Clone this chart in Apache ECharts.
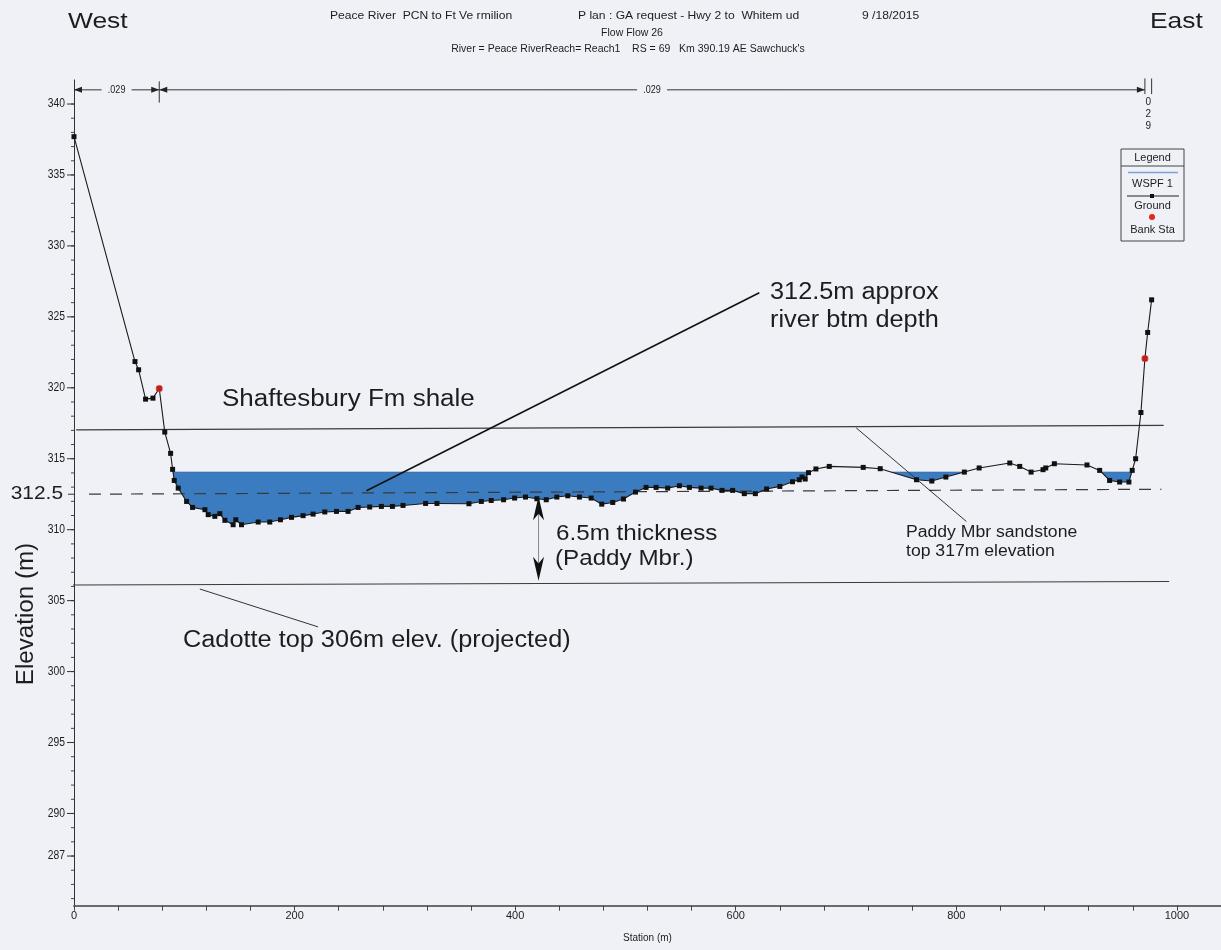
<!DOCTYPE html>
<html>
<head>
<meta charset="utf-8">
<title>Peace River cross section RS 69</title>
<script src="https://cdn.jsdelivr.net/npm/echarts@6/dist/echarts.min.js"></script>
<style>
  html, body { margin: 0; padding: 0; background: #eff1f6; }
  #chart { width: 1221px; height: 950px; }
</style>
</head>
<body>
<div id="chart"></div>
<script>
// Ground survey points: station (m) and elevation (m)
const stations = [0, 55.3, 58.6, 64.9, 71.6, 77.3, 82.3, 87.6, 89.4, 90.9, 94.5,
  102.1, 107.5, 118.7, 121.7, 127.7, 132.2, 136.8, 144.3, 146.7, 151.9,
  167.0, 177.5, 187.2, 197.2, 207.7, 216.8, 227.4, 238.0, 248.5, 257.6,
  268.1, 278.7, 288.7, 298.3, 318.8, 329.1, 358.1, 369.3, 378.3, 389.5,
  399.5, 409.4, 419.7, 428.2, 437.8, 447.7, 458.3, 468.9, 478.5, 488.5,
  498.2, 509.1, 518.7, 527.8, 538.3, 548.9, 558.0, 568.6, 577.6, 587.6,
  597.2, 607.8, 617.8, 628.0, 640.0, 651.5, 657.6, 660.1, 663.0, 666.0,
  672.7, 684.8, 715.6, 731.0, 763.9, 777.8, 790.5, 807.3, 820.7, 848.5,
  857.5, 867.8, 878.6, 881.1, 888.9, 918.5, 930.0, 939.0, 948.1, 956.5,
  959.5, 962.6, 967.4, 971.0, 973.5, 977.1];
const elevations = [337.7, 321.85, 321.27, 319.2, 319.27, 319.95, 316.88, 315.38, 314.25, 313.47, 312.93,
  311.99, 311.57, 311.41, 311.06, 310.94, 311.13, 310.66, 310.35, 310.7, 310.35,
  310.54, 310.54, 310.7, 310.87, 310.99, 311.1, 311.25, 311.29, 311.29, 311.57,
  311.6, 311.64, 311.64, 311.71, 311.85, 311.85, 311.83, 311.99, 312.06, 312.11,
  312.23, 312.3, 312.18, 312.11, 312.3, 312.39, 312.3, 312.23, 311.8, 311.92,
  312.16, 312.65, 312.98, 312.98, 312.93, 313.1, 312.98, 312.93, 312.93, 312.77,
  312.77, 312.54, 312.54, 312.87, 313.05, 313.38, 313.52, 313.71, 313.57, 314.02,
  314.28, 314.46, 314.39, 314.3, 313.52, 313.43, 313.71, 314.06, 314.35, 314.7,
  314.46, 314.06, 314.23, 314.35, 314.65, 314.56, 314.18, 313.47, 313.36, 313.36,
  314.18, 315.0, 318.26, 322.06, 323.9, 326.2];

// Bank stations
const bankStations = [77.3, 971.0];
const bankElevations = [319.95, 322.06];

// Water surface profile WSPF 1 (m)
const waterElevation = 314.05;

// Manning's n regions: break stations and values
const nBreaks = [0, 77.3, 971.0, 977.1];
const nValues = ['.029', '.029', '.029'];
const nBarElevation = 341.0;

// Vertical axis tick labels
const yMajorTicks = [340, 335, 330, 325, 320, 315, 310, 305, 300, 295, 290, 287];
const yMarkTicks = [312.5];

// Interpreted geology and callouts, [station, elevation] end points
const shaleBaseLine = [[2, 317.04], [988, 317.35]];
const riverBottomLine = [[13.6, 312.5], [986, 312.85]];
const cadotteTopLine = [[-6, 306.1], [993, 306.35]];
const bottomCallout = [[265.2, 312.75], [621.4, 326.7]];
const paddyCallout = [[709.2, 317.18], [809.1, 310.58]];
const cadotteCallout = [[114.1, 305.82], [221.3, 303.15]];
const thicknessArrow = [[421.2, 312.35], [421.2, 306.4]];

const BG = '#eff1f6';
const INK = '#1d1d1f';
const SANS = '"Liberation Sans", Arial, sans-serif';
const SX = 1.1;

const yMinorTicks = [];
for (let v = 284; v <= 340; v++) yMinorTicks.push(v);

function pairs(xs, ys) { return xs.map((x, i) => [x, ys[i]]); }

// Wetted areas between the ground line and the water surface
function wetRuns() {
  const ws = waterElevation;
  const runs = [];
  let cur = null;
  for (let i = 0; i < stations.length; i++) {
    const s = stations[i], g = elevations[i];
    if (i > 0) {
      const s0 = stations[i - 1], g0 = elevations[i - 1];
      if ((g0 < ws) !== (g < ws)) {
        const t = (ws - g0) / (g - g0);
        const sc = s0 + t * (s - s0);
        if (cur) { cur.push([sc, ws]); runs.push(cur); cur = null; }
        else { cur = [[sc, ws]]; }
      }
    }
    if (g < ws) { if (!cur) cur = []; cur.push([s, g]); }
  }
  if (cur) runs.push(cur);
  return runs;
}

function txt(text, x, y, size, opts) {
  opts = opts || {};
  return {
    type: 'text', x: x, y: y, scaleX: opts.scaleX || SX, rotation: opts.rotation || 0,
    z: 100, silent: true,
    style: {
      text: text, fill: opts.color || INK,
      font: (opts.weight || 'normal') + ' ' + size + 'px ' + (opts.family || SANS),
      textAlign: opts.align || 'left', textVerticalAlign: 'middle'
    }
  };
}

// filled arrowhead with a notched back, tip at (x, y), pointing along (dx, dy)
function arrowHead(x, y, dx, dy, len, half) {
  const n = Math.hypot(dx, dy); const ux = dx / n, uy = dy / n;
  const px = -uy, py = ux;
  const bx = x - ux * len, by = y - uy * len;
  const nx = x - ux * len * 0.72, ny = y - uy * len * 0.72;
  return { type: 'polygon', shape: { points: [[x, y], [bx + px * half, by + py * half], [nx, ny], [bx - px * half, by - py * half]] }, style: { fill: '#111' } };
}

const chart = echarts.init(document.getElementById('chart'), null, { renderer: 'canvas' });

const option = {
  backgroundColor: BG,
  animation: false,
  grid: { left: 74, right: 0, top: 79.9, bottom: 44.3, containLabel: false },
  xAxis: {
    type: 'value', min: 0, max: 1040, interval: 200,
    name: 'Station (m)', nameLocation: 'middle', nameGap: 28,
    nameTextStyle: { fontFamily: SANS, fontSize: 10, color: INK },
    axisLine: { show: true, onZero: false, lineStyle: { color: '#6a6a6a', width: 2 } },
    axisTick: { show: true, length: 5, lineStyle: { color: '#444', width: 1 } },
    minorTick: { show: true, splitNumber: 5, length: 5, lineStyle: { color: '#444', width: 1 } },
    splitLine: { show: false },
    minorSplitLine: { show: false },
    axisLabel: { showMaxLabel: false, fontFamily: SANS, fontSize: 11, color: INK, margin: 5,
      formatter: function (v) { return String(v); } }
  },
  yAxis: {
    type: 'value', min: 283.5, max: 341.7,
    axisLine: { show: true, onZero: false, lineStyle: { color: '#333', width: 1 } },
    axisTick: { show: false }, axisLabel: { show: false }, splitLine: { show: false }
  },
  series: [
    {
      // water surface fill
      name: 'WSPF 1', type: 'custom', coordinateSystem: 'cartesian2d', data: [0], z: 2, silent: true,
      renderItem: function (params, api) {
        const children = [];
        wetRuns().forEach(function (run) {
          const first = run[0], last = run[run.length - 1];
          const bottom = run.map(p => api.coord(p));
          const pts = bottom.concat([api.coord([last[0], waterElevation]), api.coord([first[0], waterElevation])]);
          children.push({ type: 'polygon', shape: { points: pts }, style: { fill: '#3a7cbf', stroke: null } });
          children.push({ type: 'line', shape: { x1: pts[pts.length - 1][0], y1: pts[pts.length - 1][1], x2: pts[pts.length - 2][0], y2: pts[pts.length - 2][1] },
            style: { stroke: '#2e66ab', lineWidth: 1 } });
        });
        return { type: 'group', children: children };
      }
    },
    {
      name: 'Shale base', type: 'line', data: shaleBaseLine, symbol: 'none', z: 3, silent: true,
      lineStyle: { color: '#3a3a3a', width: 1.2 }
    },
    {
      name: 'River bottom', type: 'line', data: riverBottomLine, symbol: 'none', z: 3, silent: true,
      lineStyle: { color: '#3a3a3a', width: 1.2, type: [12, 9] }
    },
    {
      name: 'Cadotte top', type: 'line', data: cadotteTopLine, symbol: 'none', z: 3, silent: true, clip: false,
      lineStyle: { color: '#3a3a3a', width: 1.2 }
    },
    {
      name: 'Bottom callout', type: 'line', data: bottomCallout, symbol: 'none', z: 3, silent: true,
      lineStyle: { color: '#111', width: 1.6 }
    },
    {
      name: 'Paddy callout', type: 'line', data: paddyCallout, symbol: 'none', z: 3, silent: true,
      lineStyle: { color: '#333', width: 1 }
    },
    {
      name: 'Cadotte callout', type: 'line', data: cadotteCallout, symbol: 'none', z: 3, silent: true,
      lineStyle: { color: '#333', width: 1 }
    },
    {
      // double-headed thickness arrow
      type: 'custom', coordinateSystem: 'cartesian2d', data: [0], z: 4, silent: true,
      renderItem: function (params, api) {
        const a = api.coord(thicknessArrow[0]), b = api.coord(thicknessArrow[1]);
        return { type: 'group', children: [
          { type: 'line', shape: { x1: a[0], y1: a[1] + 10, x2: b[0], y2: b[1] - 10 }, style: { stroke: '#8a8a8a', lineWidth: 1 } },
          arrowHead(a[0], a[1], a[0] - b[0], a[1] - b[1], 24, 5.5),
          arrowHead(b[0], b[1], b[0] - a[0], b[1] - a[1], 24, 5.5)
        ] };
      }
    },
    {
      name: 'Ground', type: 'line', data: pairs(stations, elevations), z: 5,
      symbol: 'rect', symbolSize: 5, showAllSymbol: true, silent: true,
      itemStyle: { color: '#111' }, lineStyle: { color: '#1a1a1a', width: 1.1 }
    },
    {
      name: 'Bank Sta', type: 'scatter', data: pairs(bankStations, bankElevations), z: 6,
      symbol: 'circle', symbolSize: 7, silent: true, itemStyle: { color: '#e5261d' }
    },
    {
      // vertical axis ticks and labels
      type: 'custom', coordinateSystem: 'cartesian2d', data: yMinorTicks.map(v => [0, v]), z: 4, silent: true,
      renderItem: function (params, api) {
        const p = api.coord([0, api.value(1)]);
        return { type: 'line', shape: { x1: p[0] - 3, y1: p[1], x2: p[0], y2: p[1] }, style: { stroke: '#444', lineWidth: 1 } };
      }
    },
    {
      type: 'custom', coordinateSystem: 'cartesian2d', data: yMajorTicks.map(v => [0, v]), z: 4, silent: true,
      renderItem: function (params, api) {
        const p = api.coord([0, api.value(1)]);
        return { type: 'group', children: [
          { type: 'line', shape: { x1: p[0] - 7, y1: p[1], x2: p[0], y2: p[1] }, style: { stroke: '#333', lineWidth: 1 } },
          { type: 'text', x: p[0] - 9, y: p[1], scaleX: 0.86, style: { text: String(api.value(1)), textAlign: 'right', textVerticalAlign: 'middle', font: '12px ' + SANS, fill: INK } }
        ] };
      }
    },
    {
      type: 'custom', coordinateSystem: 'cartesian2d', data: yMarkTicks.map(v => [0, v]), z: 4, silent: true,
      renderItem: function (params, api) {
        const p = api.coord([0, api.value(1)]);
        return { type: 'group', children: [
          { type: 'line', shape: { x1: p[0] - 6, y1: p[1], x2: p[0], y2: p[1] }, style: { stroke: '#333', lineWidth: 1 } },
          { type: 'text', x: p[0] - 11, y: p[1], scaleX: SX, style: { text: String(api.value(1)), textAlign: 'right', textVerticalAlign: 'middle', font: '19px ' + SANS, fill: INK } }
        ] };
      }
    },
    {
      // Manning's n regions along the top
      type: 'custom', coordinateSystem: 'cartesian2d', z: 4, silent: true,
      data: nValues.map((v, i) => [nBreaks[i], nBreaks[i + 1], i]),
      renderItem: function (params, api) {
        const s0 = api.value(0), s1 = api.value(1), i = api.value(2);
        const a = api.coord([s0, nBarElevation]), b = api.coord([s1, nBarElevation]);
        const yTop = api.coord([s0, 341.6])[1], yBot = api.coord([s0, 340.1])[1];
        const y = a[1];
        const children = [];
        const label = nValues[i];
        if (b[0] - a[0] > 40) {
          const mid = (a[0] + b[0]) / 2;
          children.push({ type: 'line', shape: { x1: a[0], y1: y, x2: b[0], y2: y }, style: { stroke: '#333', lineWidth: 1 } });
          children.push({ type: 'polygon', shape: { points: [[a[0], y], [a[0] + 8, y - 3], [a[0] + 8, y + 3]] }, style: { fill: '#222' } });
          children.push({ type: 'polygon', shape: { points: [[b[0], y], [b[0] - 8, y - 3], [b[0] - 8, y + 3]] }, style: { fill: '#222' } });
          children.push({ type: 'rect', shape: { x: mid - 15, y: y - 6, width: 30, height: 12 }, style: { fill: BG } });
          children.push({ type: 'text', x: mid, y: y, scaleX: 0.9, style: { text: label, textAlign: 'center', textVerticalAlign: 'middle', font: '10px ' + SANS, fill: INK } });
          if (i > 0) children.push({ type: 'line', shape: { x1: a[0], y1: yTop, x2: a[0], y2: yBot }, style: { stroke: '#333', lineWidth: 1 } });
        } else {
          const yHi = api.coord([s0, 341.8])[1], yLo = api.coord([s0, 340.7])[1];
          children.push({ type: 'line', shape: { x1: a[0], y1: yHi, x2: a[0], y2: yLo }, style: { stroke: '#333', lineWidth: 1 } });
          children.push({ type: 'line', shape: { x1: b[0], y1: yHi, x2: b[0], y2: yLo }, style: { stroke: '#333', lineWidth: 1 } });
          children.push({ type: 'text', x: (a[0] + b[0]) / 2, y: yLo + 2, style: { text: label.replace('.', '').split('').join('\n'), textAlign: 'center', textVerticalAlign: 'top', font: '10px ' + SANS, lineHeight: 12, fill: INK } });
        }
        return { type: 'group', children: children };
      }
    }
  ],
  graphic: [
    txt('West', 68, 22, 22, { scaleX: 1.2 }),
    txt('East', 1150, 22, 22, { scaleX: 1.2 }),
    txt('Peace River  PCN to Ft Ve rmilion', 330, 16, 11, { scaleX: 1.1 }),
    txt('P lan : GA request - Hwy 2 to  Whitem ud', 578, 16, 11, { scaleX: 1.1 }),
    txt('9 /18/2015', 862, 16, 11, { scaleX: 1.1 }),
    txt('Flow Flow 26', 632, 33, 10, { align: 'center', scaleX: 1.05 }),
    txt("River = Peace RiverReach= Reach1    RS = 69   Km 390.19 AE Sawchuck's", 628, 49, 10, { align: 'center', scaleX: 1.05 }),
    txt('312.5m approx', 770, 293, 23),
    txt('river btm depth', 770, 321, 23),
    txt('Shaftesbury Fm shale', 222, 400, 23, { scaleX: 1.13 }),
    txt('6.5m thickness', 556, 534, 22),
    txt('(Paddy Mbr.)', 555, 559, 22),
    txt('Paddy Mbr sandstone', 906, 533, 16),
    txt('top 317m elevation', 906, 552, 16),
    txt('Cadotte top 306m elev. (projected)', 183, 641, 23),
    txt('Elevation (m)', 27, 614, 23, { align: 'center', rotation: Math.PI / 2, scaleX: 1.05 }),
    // legend box
    { type: 'rect', z: 100, silent: true, shape: { x: 1121, y: 149, width: 63, height: 92 }, style: { fill: 'none', stroke: '#444', lineWidth: 1 } },
    { type: 'line', z: 100, silent: true, shape: { x1: 1121, y1: 166, x2: 1184, y2: 166 }, style: { stroke: '#444', lineWidth: 1 } },
    txt('Legend', 1152.5, 157.5, 11, { align: 'center', scaleX: 1 }),
    { type: 'line', z: 100, silent: true, shape: { x1: 1128, y1: 172.5, x2: 1178, y2: 172.5 }, style: { stroke: '#7f9fd8', lineWidth: 1.5 } },
    txt('WSPF 1', 1152.5, 184, 11, { align: 'center', scaleX: 1 }),
    { type: 'line', z: 100, silent: true, shape: { x1: 1127, y1: 196, x2: 1179, y2: 196 }, style: { stroke: '#222', lineWidth: 1 } },
    { type: 'rect', z: 100, silent: true, shape: { x: 1150, y: 194, width: 4, height: 4 }, style: { fill: '#111' } },
    txt('Ground', 1152.5, 206, 11, { align: 'center', scaleX: 1 }),
    { type: 'circle', z: 100, silent: true, shape: { cx: 1152, cy: 217, r: 3 }, style: { fill: '#e5261d' } },
    txt('Bank Sta', 1152.5, 229.5, 11, { align: 'center', scaleX: 1 })
  ]
};

chart.setOption(option);
</script>
</body>
</html>
